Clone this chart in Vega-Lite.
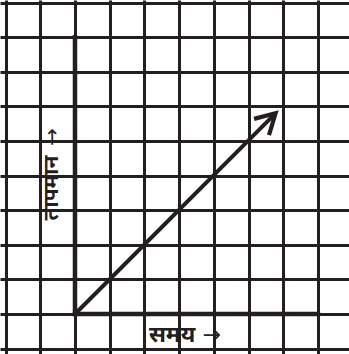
{
  "$schema": "https://vega.github.io/schema/vega-lite/v6.json",
  "width": 349,
  "height": 354,
  "autosize": "none",
  "padding": 0,
  "background": "white",
  "config": {"view": {"stroke": null}},
  "encoding": {
    "x": {
      "field": "x", "type": "quantitative",
      "scale": {"domain": [-2.161, 7.896], "nice": false, "zero": false},
      "axis": {"values": [-2, -1, 0, 1, 2, 3, 4, 5, 6, 7, 8], "grid": true, "gridColor": "#231f20", "gridWidth": 3, "gridOpacity": 1, "labels": false, "ticks": false, "domain": false, "title": null}
    },
    "y": {
      "field": "y", "type": "quantitative",
      "scale": {"domain": [-1.156, 9.075], "nice": false, "zero": false},
      "axis": {"values": [-1, 0, 1, 2, 3, 4, 5, 6, 7, 8, 9], "grid": true, "gridColor": "#231f20", "gridWidth": 3, "gridOpacity": 1, "labels": false, "ticks": false, "domain": false, "title": null}
    }
  },
  "layer": [
    {
      "data": {"values": [
        {"x": 0, "y": 0, "x2": 0, "y2": 8},
        {"x": 0, "y": 0, "x2": 7, "y2": 0}
      ]},
      "mark": {"type": "rule", "color": "#231f20", "strokeWidth": 4.5, "strokeCap": "square"},
      "encoding": {"x2": {"field": "x2"}, "y2": {"field": "y2"}}
    },
    {
      "data": {"values": [
        {"x": 0, "y": 0, "o": 0},
        {"x": 5.72, "y": 5.74, "o": 1}
      ]},
      "mark": {"type": "line", "color": "#231f20", "strokeWidth": 4, "strokeCap": "butt"},
      "encoding": {"order": {"field": "o", "type": "quantitative"}}
    },
    {
      "data": {"values": [
        {"x": 5.16, "y": 5.64, "o": 0},
        {"x": 5.78, "y": 5.8, "o": 1},
        {"x": 5.59, "y": 5.17, "o": 2}
      ]},
      "mark": {"type": "line", "color": "#231f20", "strokeWidth": 4.2, "strokeJoin": "miter", "strokeCap": "butt"},
      "encoding": {"order": {"field": "o", "type": "quantitative"}}
    },
    {
      "data": {"values": [
        {"x": 2.8, "y": -0.61, "label": "समय"}
      ]},
      "mark": {"type": "text", "font": "Noto Sans", "fontSize": 23, "fontWeight": "bold", "color": "#231f20", "baseline": "middle", "align": "center"},
      "encoding": {"text": {"field": "label"}}
    },
    {
      "data": {"values": [
        {"x": 3.95, "y": -0.6, "label": "→"}
      ]},
      "mark": {"type": "text", "font": "DejaVu Sans", "fontSize": 22, "fontWeight": "normal", "color": "#231f20", "baseline": "middle", "align": "center"},
      "encoding": {"text": {"field": "label"}}
    },
    {
      "data": {"values": [
        {"x": -0.65, "y": 3.64, "label": "तापमान"}
      ]},
      "mark": {"type": "text", "font": "Noto Sans", "fontSize": 21, "fontWeight": "bold", "color": "#231f20", "baseline": "middle", "align": "center", "angle": 270},
      "encoding": {"text": {"field": "label"}}
    },
    {
      "data": {"values": [
        {"x": -0.63, "y": 5.12, "label": "→"}
      ]},
      "mark": {"type": "text", "font": "DejaVu Sans", "fontSize": 21, "fontWeight": "normal", "color": "#231f20", "baseline": "middle", "align": "center", "angle": 270},
      "encoding": {"text": {"field": "label"}}
    }
  ]
}
